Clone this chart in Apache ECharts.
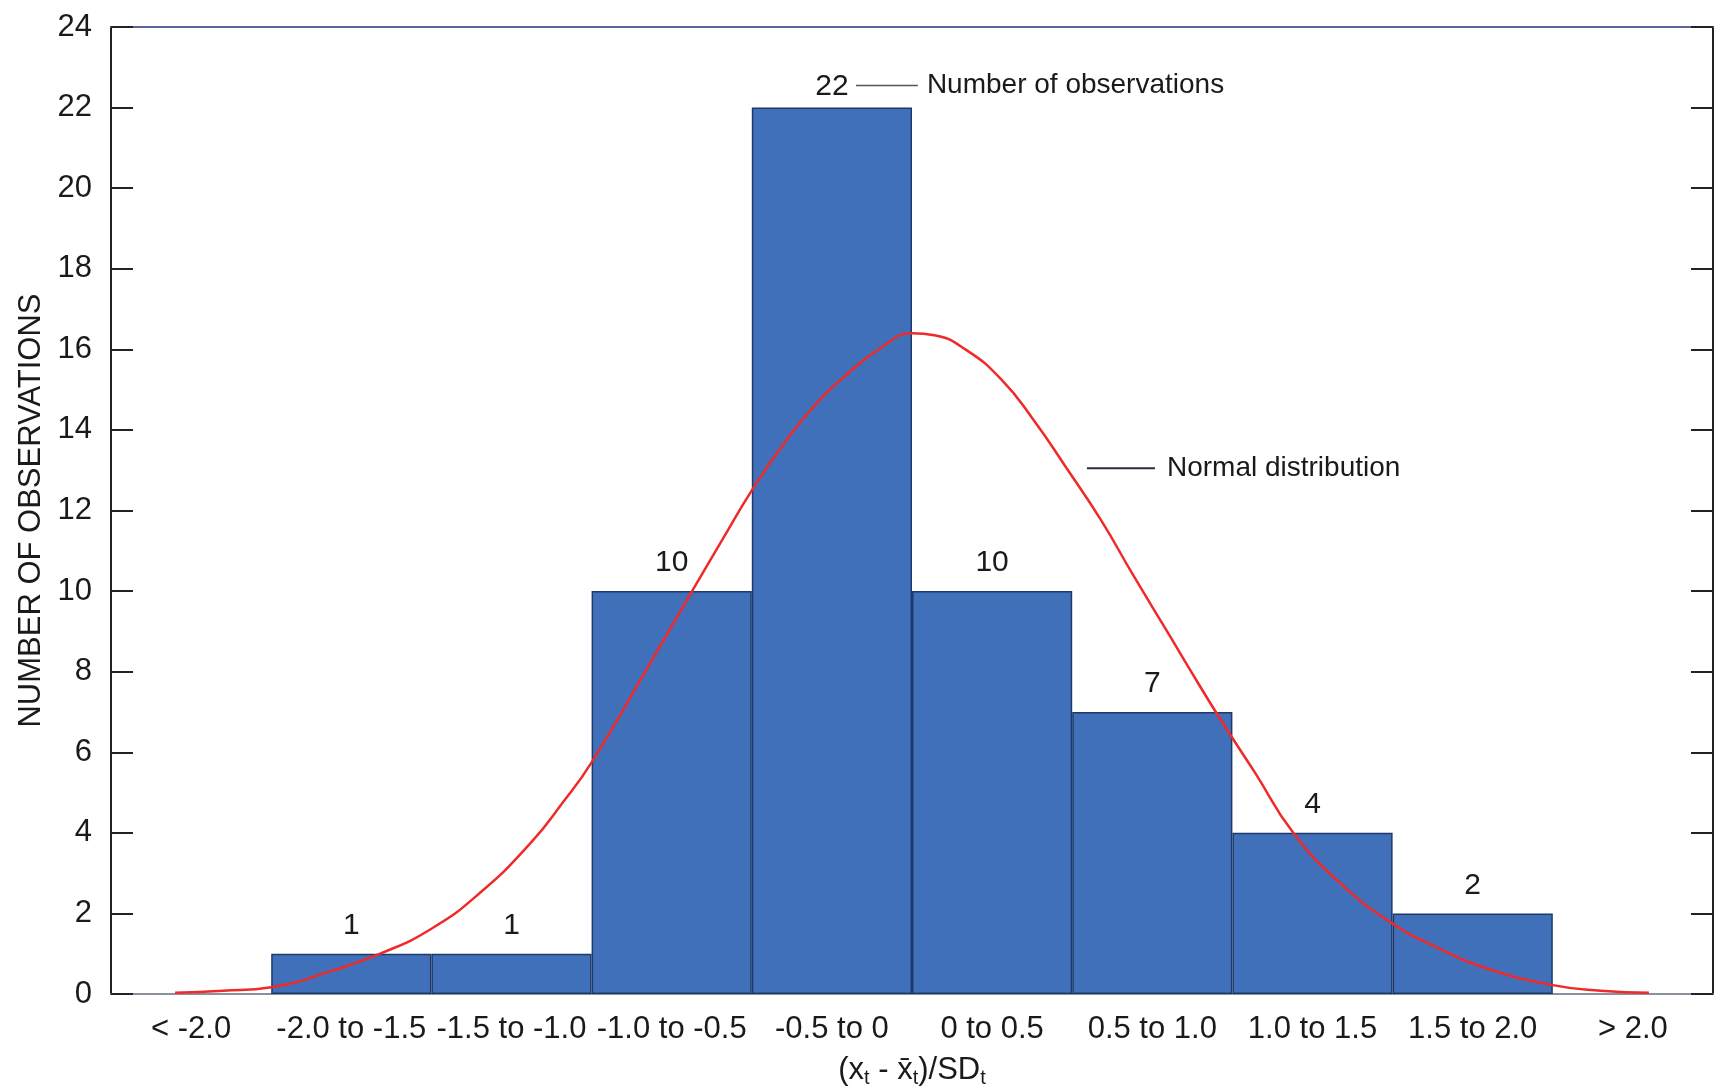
<!DOCTYPE html>
<html>
<head>
<meta charset="utf-8">
<title>Number of observations</title>
<script src="https://cdn.jsdelivr.net/npm/echarts@6/dist/echarts.min.js"></script>
<style>
  html, body { margin: 0; padding: 0; background: #fff; }
  #main { width: 1717px; height: 1092px; }
</style>
</head>
<body>
<div id="main"></div>
<script>
// bins of (x_t - mean)/SD
const categories = ['< -2.0', '-2.0 to -1.5', '-1.5 to -1.0', '-1.0 to -0.5', '-0.5 to 0',
                    '0 to 0.5', '0.5 to 1.0', '1.0 to 1.5', '1.5 to 2.0', '> 2.0'];
const counts = [0, 1, 1, 10, 22, 10, 7, 4, 2, 0];

// normal curve
const curveX = [-2.3, -2.15, -2.0, -1.82, -1.66, -1.5, -1.35, -1.19, -1.09, -1.0, -0.84, -0.69, -0.59,
                -0.5, -0.41, -0.31, -0.2, -0.1, 0.0, 0.07, 0.17, 0.28, 0.38, 0.48, 0.59, 0.69, 0.8,
                0.86, 0.96, 1.07, 1.19, 1.33, 1.49, 1.64, 1.8, 2.0, 2.15, 2.3];
const curveY = [0.03, 0.08, 0.17, 0.55, 1.0, 1.62, 2.5, 3.75, 4.75, 5.75, 7.9, 9.95, 11.3,
                12.5, 13.55, 14.55, 15.4, 16.02, 16.4, 16.35, 15.98, 15.24, 14.24, 13.08, 11.76, 10.4, 8.95,
                8.15, 6.85, 5.5, 4.0, 2.8, 1.8, 1.15, 0.62, 0.22, 0.08, 0.03];

const yTicks = { min: 0, max: 24, step: 2 };

const font = 'Liberation Sans, Arial, Helvetica, sans-serif';
const textColor = '#1a1a1a';

const chart = echarts.init(document.getElementById('main'));

const barData = counts.map((v, i) => {
    if (v === 0) return { value: 0, label: { show: false }, itemStyle: { borderWidth: 0 } };
    if (v === 22) return { value: v, label: { distance: 6 } };
    return v;
});

const option = {
    animation: false,
    backgroundColor: '#fff',
    grid: { left: 111, right: 4, top: 27, bottom: 98, outerBoundsMode: 'none', containLabel: false },
    xAxis: [
        {
            type: 'category',
            data: categories,
            position: 'bottom',
            axisLine: { onZero: false, lineStyle: { color: '#8a909c', width: 2 } },
            axisTick: { show: false },
            axisLabel: { interval: 0, fontSize: 31, fontFamily: font, color: textColor, margin: 20 },
            name: '(x{sub|t} - x\u0304{sub|t})/SD{sub|t}',
            nameLocation: 'middle',
            nameGap: 58,
            nameTextStyle: {
                fontSize: 31, fontFamily: font, color: textColor, lineHeight: 36,
                rich: {
                    sub: { fontSize: 20, fontFamily: font, color: textColor, lineHeight: 36, padding: [16, 0, 0, 0] }
                }
            }
        },
        {
            // value axis for the curve, also draws the top border
            type: 'value',
            min: -2.5,
            max: 2.5,
            position: 'top',
            axisLine: { show: true, onZero: false, lineStyle: { color: '#5b63a0', width: 2 } },
            axisTick: { show: false },
            axisLabel: { show: false },
            splitLine: { show: false }
        }
    ],
    yAxis: [
        {
            type: 'value',
            min: yTicks.min,
            max: yTicks.max,
            interval: yTicks.step,
            position: 'left',
            axisLine: { show: true, onZero: false, lineStyle: { color: '#222', width: 2 } },
            axisTick: { show: true, inside: true, length: 22, lineStyle: { color: '#222', width: 2 } },
            axisLabel: { fontSize: 31, fontFamily: font, color: textColor, margin: 19 },
            splitLine: { show: false },
            name: 'NUMBER OF OBSERVATIONS',
            nameLocation: 'middle',
            nameGap: 64,
            nameTextStyle: { fontSize: 31, fontFamily: font, color: textColor }
        },
        {
            type: 'value',
            min: yTicks.min,
            max: yTicks.max,
            interval: yTicks.step,
            position: 'right',
            axisLine: { show: true, onZero: false, lineStyle: { color: '#222', width: 2 } },
            axisTick: { show: true, inside: true, length: 22, lineStyle: { color: '#222', width: 2 } },
            axisLabel: { show: false },
            splitLine: { show: false }
        }
    ],
    series: [
        {
            name: 'Number of observations',
            type: 'bar',
            xAxisIndex: 0,
            yAxisIndex: 0,
            barWidth: '100%',
            data: barData,
            itemStyle: { color: '#4170bb', borderColor: '#1d3a68', borderWidth: 1.5 },
            label: {
                show: true,
                position: 'top',
                distance: 13,
                fontSize: 30,
                fontFamily: font,
                color: textColor
            },
            z: 2
        },
        {
            name: 'Normal distribution',
            type: 'line',
            xAxisIndex: 1,
            yAxisIndex: 0,
            smooth: true,
            showSymbol: false,
            data: curveX.map((x, i) => [x, curveY[i]]),
            lineStyle: { color: '#ee2a2a', width: 2.5 },
            z: 5
        }
    ]
};

chart.setOption(option);

// callouts
const obsAt = [4, 22];
const normalAt = [0.546, 13.05];
const p1 = chart.convertToPixel({ xAxisIndex: 0, yAxisIndex: 0 }, obsAt);
const p2 = chart.convertToPixel({ xAxisIndex: 1, yAxisIndex: 0 }, normalAt);
const y1 = p1[1] - 22;

chart.setOption({
    graphic: [
        {
            type: 'line',
            shape: { x1: p1[0] + 24, y1: y1, x2: p1[0] + 86, y2: y1 },
            style: { stroke: '#555', lineWidth: 1.5 }
        },
        {
            type: 'text',
            x: p1[0] + 95,
            y: y1,
            style: { text: 'Number of observations', fontSize: 28, fontFamily: font, fill: textColor, verticalAlign: 'middle' }
        },
        {
            type: 'line',
            shape: { x1: p2[0], y1: p2[1], x2: p2[0] + 68, y2: p2[1] },
            style: { stroke: '#2a2d4a', lineWidth: 2 }
        },
        {
            type: 'text',
            x: p2[0] + 80,
            y: p2[1],
            style: { text: 'Normal distribution', fontSize: 28, fontFamily: font, fill: textColor, verticalAlign: 'middle' }
        }
    ]
});
</script>
</body>
</html>
